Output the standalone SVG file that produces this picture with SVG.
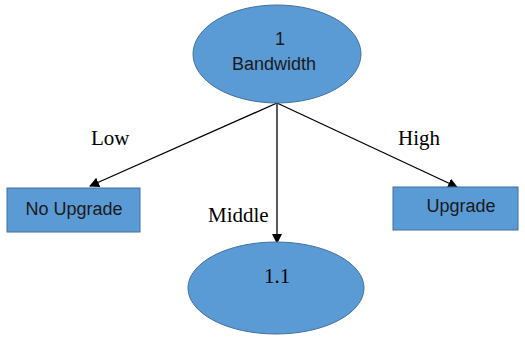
<svg xmlns="http://www.w3.org/2000/svg" width="525" height="338" viewBox="0 0 525 338">
<defs>
<marker id="arr" markerWidth="10" markerHeight="10" refX="9" refY="5" orient="auto" markerUnits="userSpaceOnUse">
<path d="M0,0 L10,5 L0,10 z" fill="#000"/>
</marker>
</defs>
<style>
.shape{fill:#5B9BD5;stroke:#41719C;stroke-width:1}
.sans{font-family:"Liberation Sans",Arial,sans-serif;font-size:18px;fill:#1a1a1a;text-anchor:middle}
.serif{font-family:"Liberation Serif","Times New Roman",serif;font-size:21px;fill:#000}
.edge{stroke:#000;stroke-width:1.3;fill:none;marker-end:url(#arr)}
</style>
<rect width="525" height="338" fill="#fff"/>
<g id="connectors">
<line class="edge" x1="277" y1="103" x2="90" y2="186"/>
<line class="edge" x1="277" y1="103" x2="277" y2="243"/>
<line class="edge" x1="277" y1="103" x2="457" y2="187"/>
<text class="serif" x="91" y="145">Low</text>
<text class="serif" x="398" y="145">High</text>
<text class="serif" x="208" y="222">Middle</text>
</g>
<g id="n1">
<ellipse class="shape" cx="277" cy="54" rx="84" ry="49"/>
<text class="sans" x="280" y="45">1</text>
<text class="sans" x="274" y="70">Bandwidth</text>
</g>
<g id="n_noupgrade">
<rect class="shape" x="7" y="188" width="133" height="44"/>
<text class="sans" x="74" y="215">No Upgrade</text>
</g>
<g id="n_upgrade">
<rect class="shape" x="393" y="187" width="125" height="43"/>
<text class="sans" x="461" y="212">Upgrade</text>
</g>
<g id="n11">
<ellipse class="shape" cx="276" cy="288" rx="88" ry="46"/>
<text class="serif" x="277" y="283" text-anchor="middle">1.1</text>
</g>
</svg>
